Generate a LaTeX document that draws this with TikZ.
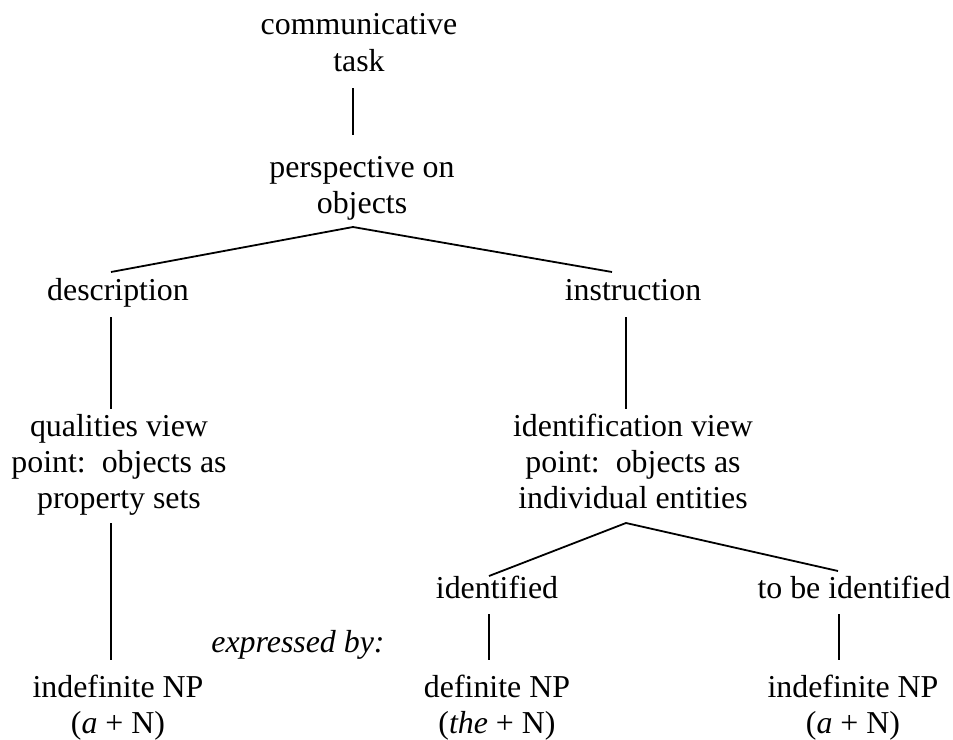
\documentclass[tikz,border=0pt]{standalone}
\usepackage{fontspec}
\setmainfont{Liberation Serif}
\usetikzlibrary{calc}
% centred multi-line label whose baseline is that of its first line
\newcommand\mlines[1]{\begin{tabular}[t]{@{}c@{}}#1\end{tabular}}
\begin{document}
\begin{tikzpicture}[x=1bp,y=-1bp,
  lbl/.style={inner sep=0pt,anchor=base,font=\fontsize{32}{36.5}\selectfont},
  edge/.style={line width=1.8bp}]
\useasboundingbox (0,0) rectangle (953,740);

% tree labels
\node[lbl] (ct)  at (359,35)  {\mlines{communicative\\task}};
\node[lbl] (po)  at (362,177) {\mlines{perspective on\\objects}};
\node[lbl] (de)  at (118,300) {description};
\node[lbl] (in)  at (633,300) {instruction};
\node[lbl] (qv)  at (119,436) {\mlines{qualities view\\point:\hspace{0.5em}objects as\\property sets}};
\node[lbl] (iv)  at (633,436) {\mlines{identification view\\point:\hspace{0.5em}objects as\\individual entities}};
\node[lbl] (id)  at (497,598) {identified};
\node[lbl] (tb)  at (854,598) {to be identified};
\node[lbl] (np1) at (118,697) {\mlines{indefinite NP\\(\textit{a} + N)}};
\node[lbl] (np2) at (497,697) {\mlines{definite NP\\(\textit{the} + N)}};
\node[lbl] (np3) at (853,697) {\mlines{indefinite NP\\(\textit{a} + N)}};
\node[lbl] (ex)  at (298,652) {\textit{expressed by:}};

% branches
\draw[edge] ([shift={(-6,53)}]ct.base) -- ([shift={(-9,-42)}]po.base);
\draw[edge] ([shift={(-7,-28)}]de.base) -- ([shift={(-9,50)}]po.base)
            -- ([shift={(-21,-28)}]in.base);
\draw[edge] ([shift={(-7,17)}]de.base) -- ([shift={(-8,-27)}]qv.base);
\draw[edge] ([shift={(-7,17)}]in.base) -- ([shift={(-7,-27)}]iv.base);
\draw[edge] ([shift={(-8,87)}]qv.base) -- ([shift={(-7,-37)}]np1.base);
\draw[edge] ([shift={(-8,-22)}]id.base) -- ([shift={(-7,87)}]iv.base)
            -- ([shift={(-16,-27)}]tb.base);
\draw[edge] ([shift={(-8,16)}]id.base) -- ([shift={(-8,-37)}]np2.base);
\draw[edge] ([shift={(-15,16)}]tb.base) -- ([shift={(-14,-37)}]np3.base);
\end{tikzpicture}
\end{document}
